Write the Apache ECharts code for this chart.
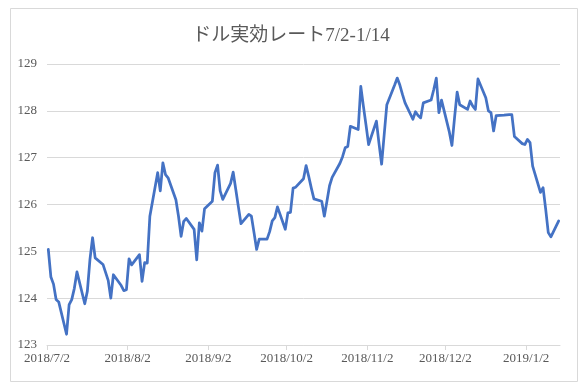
<!DOCTYPE html>
<html><head><meta charset="utf-8">
<script src="https://cdn.jsdelivr.net/npm/echarts@6/dist/echarts.min.js"></script>
<style>html,body{margin:0;padding:0;background:#fff}#c{width:582px;height:387px}</style>
</head><body><div id="c"></div>
<script>
var titleText = "ドル実効レート7/2-1/14";
var startDate = "2018/7/2";
var endDate = "2019/1/15";
var tickLabels = ["2018/7/2","2018/8/2","2018/9/2","2018/10/2","2018/11/2","2018/12/2","2019/1/2"];
var yTicks = [123,124,125,126,127,128,129];
var dates = [
"2018/7/2","2018/7/3","2018/7/4","2018/7/5","2018/7/6",
"2018/7/9","2018/7/10","2018/7/11","2018/7/12","2018/7/13",
"2018/7/16","2018/7/17","2018/7/18","2018/7/19","2018/7/20",
"2018/7/23","2018/7/24","2018/7/25","2018/7/26","2018/7/27",
"2018/7/30","2018/7/31","2018/8/1","2018/8/2","2018/8/3",
"2018/8/6","2018/8/7","2018/8/8","2018/8/9","2018/8/10",
"2018/8/13","2018/8/14","2018/8/15","2018/8/16","2018/8/17",
"2018/8/20","2018/8/21","2018/8/22","2018/8/23","2018/8/24",
"2018/8/27","2018/8/28","2018/8/29","2018/8/30","2018/8/31",
"2018/9/3","2018/9/4","2018/9/5","2018/9/6","2018/9/7",
"2018/9/10","2018/9/11","2018/9/12","2018/9/13","2018/9/14",
"2018/9/17","2018/9/18","2018/9/19","2018/9/20","2018/9/21",
"2018/9/24","2018/9/25","2018/9/26","2018/9/27","2018/9/28",
"2018/10/1","2018/10/2","2018/10/3","2018/10/4","2018/10/5",
"2018/10/8","2018/10/9","2018/10/10","2018/10/11","2018/10/12",
"2018/10/15","2018/10/16","2018/10/17","2018/10/18","2018/10/19",
"2018/10/22","2018/10/23","2018/10/24","2018/10/25","2018/10/26",
"2018/10/29","2018/10/30","2018/10/31","2018/11/1","2018/11/2",
"2018/11/5","2018/11/6","2018/11/7","2018/11/8","2018/11/9",
"2018/11/12","2018/11/13","2018/11/14","2018/11/15","2018/11/16",
"2018/11/19","2018/11/20","2018/11/21","2018/11/22","2018/11/23",
"2018/11/26","2018/11/27","2018/11/28","2018/11/29","2018/11/30",
"2018/12/3","2018/12/4","2018/12/5","2018/12/6","2018/12/7",
"2018/12/10","2018/12/11","2018/12/12","2018/12/13","2018/12/14",
"2018/12/17","2018/12/18","2018/12/19","2018/12/20","2018/12/21",
"2018/12/24","2018/12/26","2018/12/27","2018/12/28",
"2018/12/31","2019/1/1","2019/1/2","2019/1/3","2019/1/4",
"2019/1/7","2019/1/8","2019/1/9","2019/1/10","2019/1/11",
"2019/1/14"
];
var rates = [
125.04,124.45,124.30,123.97,123.92,
123.23,123.86,123.97,124.21,124.56,
123.88,124.15,124.83,125.29,124.86,
124.72,124.55,124.38,124.00,124.50,
124.27,124.16,124.18,124.84,124.71,
124.93,124.36,124.76,124.75,125.75,
126.68,126.29,126.89,126.64,126.57,
126.10,125.75,125.32,125.64,125.70,
125.47,124.82,125.61,125.43,125.91,
126.07,126.68,126.84,126.29,126.11,
126.45,126.69,126.32,125.95,125.59,
125.79,125.75,125.40,125.04,125.26,
125.26,125.42,125.65,125.72,125.95,
125.47,125.82,125.83,126.35,126.37,
126.55,126.83,126.60,126.35,126.12,
126.07,125.75,126.07,126.40,126.58,
126.88,127.02,127.21,127.24,127.67,
127.60,128.52,128.10,127.70,127.28,
127.78,127.30,126.86,127.50,128.13,
128.55,128.70,128.55,128.35,128.17,
127.82,127.98,127.90,127.85,128.17,
128.23,128.45,128.70,127.96,128.23,
127.55,127.26,127.85,128.40,128.13,
128.03,128.21,128.10,128.03,128.68,
128.28,128.00,127.96,127.57,127.90,
127.91,127.92,127.92,127.45,
127.30,127.28,127.39,127.32,126.82,
126.26,126.36,125.90,125.40,125.31,
125.65
];

function dayIndex(s) {
  var p = s.split("/").map(Number);
  var q = startDate.split("/").map(Number);
  return Math.round((Date.UTC(p[0], p[1]-1, p[2]) - Date.UTC(q[0], q[1]-1, q[2])) / 86400000);
}
var tickPos = tickLabels.map(dayIndex);
var axisMax = dayIndex(endDate);
var seriesData = dates.map(function (d, i) { return [dayIndex(d) + 0.5, rates[i]]; });

var chart = echarts.init(document.getElementById('c'), null, {renderer: 'canvas'});
var serif = "'Liberation Serif','Noto Sans CJK JP',serif";
chart.setOption({
  animation: false,
  backgroundColor: '#ffffff',
  graphic: [{
    type: 'rect', left: 8, top: 6, shape: {x: 0, y: 0, width: 567, height: 373},
    style: {fill: 'none', stroke: '#D9D9D9', lineWidth: 1}, silent: true, z: -10
  }],
  title: {
    text: titleText, left: 'center', top: 22,
    textStyle: {fontFamily: serif, fontSize: 19, fontWeight: 'normal', color: '#595959'}
  },
  grid: {left: 47, right: 22, top: 64, bottom: 42, containLabel: false},
  xAxis: {
    type: 'value', min: 0, max: axisMax,
    axisLine: {show: true, lineStyle: {color: '#D9D9D9', width: 1}},
    axisTick: {show: true, length: 5, inside: false, customValues: tickPos, lineStyle: {color: '#D9D9D9'}},
    splitLine: {show: false},
    axisLabel: {
      customValues: tickPos, margin: 7,
      fontFamily: serif, fontSize: 13, color: '#595959',
      formatter: function (v) { var i = tickPos.indexOf(v); return i >= 0 ? tickLabels[i] : ''; }
    }
  },
  yAxis: {
    type: 'value', min: yTicks[0], max: yTicks[yTicks.length-1], interval: 1,
    axisLine: {show: false}, axisTick: {show: false},
    splitLine: {lineStyle: {color: '#D9D9D9', width: 1}},
    axisLabel: {fontFamily: serif, fontSize: 13, color: '#595959', margin: 10}
  },
  series: [{
    type: 'line', data: seriesData, showSymbol: false, symbol: 'none',
    lineStyle: {color: '#4472C4', width: 2.75, join: 'round', cap: 'round'},
    itemStyle: {color: '#4472C4'}
  }]
});
</script></body></html>
